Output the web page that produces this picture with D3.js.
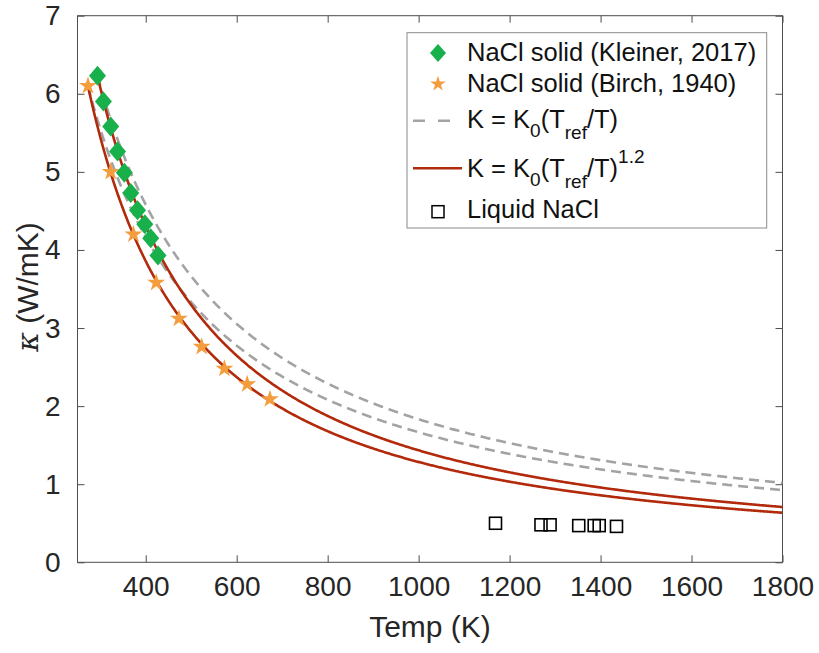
<!DOCTYPE html>
<html>
<head>
<meta charset="utf-8">
<script src="https://cdn.jsdelivr.net/npm/d3@7"></script>
<style>
  html, body { margin: 0; padding: 0; background: #fff; }
  svg { display: block; font-family: "Liberation Sans", Arial, Helvetica, sans-serif; }
</style>
</head>
<body>
<svg id="chart" width="819" height="653"></svg>
<script>
// Solid NaCl thermal conductivity, Kleiner (2017)
const kleinerT = [294, 307, 323, 338, 353, 367, 382, 398, 411, 427];
const kleinerK = [6.23, 5.90, 5.58, 5.26, 4.99, 4.73, 4.51, 4.33, 4.15, 3.93];

// Solid NaCl thermal conductivity, Birch (1940)
const birchT = [273, 323, 373, 423, 473, 523, 573, 623, 673];
const birchK = [6.10, 5.00, 4.20, 3.58, 3.12, 2.76, 2.48, 2.28, 2.09];

// Liquid NaCl
const liquidT = [1169, 1269, 1289, 1352, 1386, 1397, 1435];
const liquidK = [0.50, 0.48, 0.48, 0.47, 0.47, 0.47, 0.46];

// Power-law models K = K0 (Tref/T)^n, anchored on each solid data set
const modelTref = [294, 273];
const modelK0 = [6.23, 6.10];
const modelExponents = [1, 1.2];
const modelTmax = 1800;

const xTicks = [400, 600, 800, 1000, 1200, 1400, 1600, 1800];
const yTicks = [0, 1, 2, 3, 4, 5, 6, 7];

const svg = d3.select("#chart");
const textColor = "#262626";
const axisColor = "#4d4d4d";
const padL = 77.5, padR = 782.5, padT = 15.7, padB = 562.3;

const x = d3.scaleLinear().domain([250, 1800]).range([padL, padR]);
const y = d3.scaleLinear().domain([0, 7]).range([padB, padT]);

// Axes box with inward ticks on all four sides
const tickLen = 7;
const fmt = d3.format("d");
const axisStyle = g => {
  g.select(".domain").remove();
  g.selectAll(".tick line").attr("stroke", axisColor).attr("stroke-width", 1);
  g.selectAll(".tick text").attr("fill", textColor).style("font-size", "28px");
};
svg.append("g").attr("transform", `translate(0,${padB})`)
  .call(d3.axisBottom(x).tickValues(xTicks).tickFormat(fmt).tickSize(-tickLen).tickPadding(14))
  .call(axisStyle)
  .call(g => g.selectAll(".tick text").attr("dy", "0.71em"));
svg.append("g").attr("transform", `translate(0,${padT})`)
  .call(d3.axisTop(x).tickValues(xTicks).tickSize(-tickLen).tickFormat(""))
  .call(axisStyle);
svg.append("g").attr("transform", `translate(${padL},0)`)
  .call(d3.axisLeft(y).tickValues(yTicks).tickFormat(fmt).tickSize(-tickLen).tickPadding(17))
  .call(axisStyle);
svg.append("g").attr("transform", `translate(${padR},0)`)
  .call(d3.axisRight(y).tickValues(yTicks).tickSize(-tickLen).tickFormat(""))
  .call(axisStyle);
svg.append("rect")
  .attr("x", padL).attr("y", padT)
  .attr("width", padR - padL).attr("height", padB - padT)
  .attr("fill", "none").attr("stroke", axisColor).attr("stroke-width", 1);

// Axis titles
svg.append("text")
  .attr("x", (padL + padR) / 2).attr("y", 637)
  .attr("text-anchor", "middle").attr("fill", textColor)
  .style("font-size", "30px").text("Temp (K)");
const yTitle = svg.append("text")
  .attr("transform", `translate(38,287) rotate(-90)`)
  .attr("text-anchor", "middle").attr("fill", textColor)
  .style("font-size", "30px");
yTitle.append("tspan").style("font-family", "'DejaVu Serif', serif")
  .style("font-style", "italic").text("κ");
yTitle.append("tspan").text(" (W/mK)");

// Model curves
const plot = svg.append("g");
const line = d3.line().x(d => x(d[0])).y(d => y(d[1]));
const dashColor = "#a3a3a3";
const solidColor = "#b22a0b";
modelExponents.forEach(n => {
  modelTref.forEach((tref, i) => {
    const pts = d3.range(tref, modelTmax + 1, 2).map(t => [t, modelK0[i] * Math.pow(tref / t, n)]);
    plot.append("path").datum(pts)
      .attr("d", line).attr("fill", "none")
      .attr("stroke", n === 1 ? dashColor : solidColor)
      .attr("stroke-width", 2.6)
      .attr("stroke-dasharray", n === 1 ? "10,6" : null);
  });
});

// Marker shapes
const diamondPath = (w, h) => `M0,${-h / 2}L${w / 2},0L0,${h / 2}L${-w / 2},0Z`;
const star = d3.symbol().type(d3.symbolStar);
const green = "#18b04a";
const orange = "#f49d3f";

plot.selectAll(".liquid").data(liquidT).join("rect")
  .attr("x", (d) => x(d) - 6).attr("y", (d, i) => y(liquidK[i]) - 6)
  .attr("width", 12).attr("height", 12)
  .attr("fill", "none").attr("stroke", "#000").attr("stroke-width", 1.6);

plot.selectAll(".birch").data(birchT).join("path")
  .attr("transform", (d, i) => `translate(${x(d)},${y(birchK[i])})`)
  .attr("d", star.size(100)()).attr("fill", orange);

plot.selectAll(".kleiner").data(kleinerT).join("path")
  .attr("transform", (d, i) => `translate(${x(d)},${y(kleinerK[i])})`)
  .attr("d", diamondPath(17, 20)).attr("fill", green);

// Legend
const lg = svg.append("g");
lg.append("rect").attr("x", 407).attr("y", 32.7).attr("width", 359.7).attr("height", 195.3)
  .attr("fill", "#fff").attr("stroke", "#8a8a8a").attr("stroke-width", 1);
const tx = 467;
const legendText = (yy) => lg.append("text").attr("x", tx).attr("y", yy)
  .attr("fill", "#111").style("font-size", "25.5px");

lg.append("path").attr("transform", "translate(438,53)").attr("d", diamondPath(16, 18)).attr("fill", green);
legendText(60.7).text("NaCl solid (Kleiner, 2017)");

lg.append("path").attr("transform", "translate(438,84)").attr("d", star.size(75)()).attr("fill", orange);
legendText(91.7).text("NaCl solid (Birch, 1940)");

lg.append("line").attr("x1", 413).attr("x2", 462).attr("y1", 120.7).attr("y2", 120.7)
  .attr("stroke", dashColor).attr("stroke-width", 2.6).attr("stroke-dasharray", "12,13");
const t3 = legendText(128.3);
t3.append("tspan").text("K = K");
t3.append("tspan").attr("dy", 9).style("font-size", "19px").text("0");
t3.append("tspan").attr("dy", -9).text("(T");
t3.append("tspan").attr("dy", 11).style("font-size", "19px").text("ref");
t3.append("tspan").attr("dy", -11).text("/T)");

lg.append("line").attr("x1", 413).attr("x2", 462).attr("y1", 168.3).attr("y2", 168.3)
  .attr("stroke", solidColor).attr("stroke-width", 2.6);
const t4 = legendText(176.7);
t4.append("tspan").text("K = K");
t4.append("tspan").attr("dy", 9).style("font-size", "19px").text("0");
t4.append("tspan").attr("dy", -9).text("(T");
t4.append("tspan").attr("dy", 11).style("font-size", "19px").text("ref");
t4.append("tspan").attr("dy", -11).text("/T)");
t4.append("tspan").attr("dy", -14).style("font-size", "19px").text("1.2");

lg.append("rect").attr("x", 432).attr("y", 205.7).attr("width", 12).attr("height", 12)
  .attr("fill", "none").attr("stroke", "#000").attr("stroke-width", 1.5);
legendText(218.3).text("Liquid NaCl");
</script>
</body>
</html>
